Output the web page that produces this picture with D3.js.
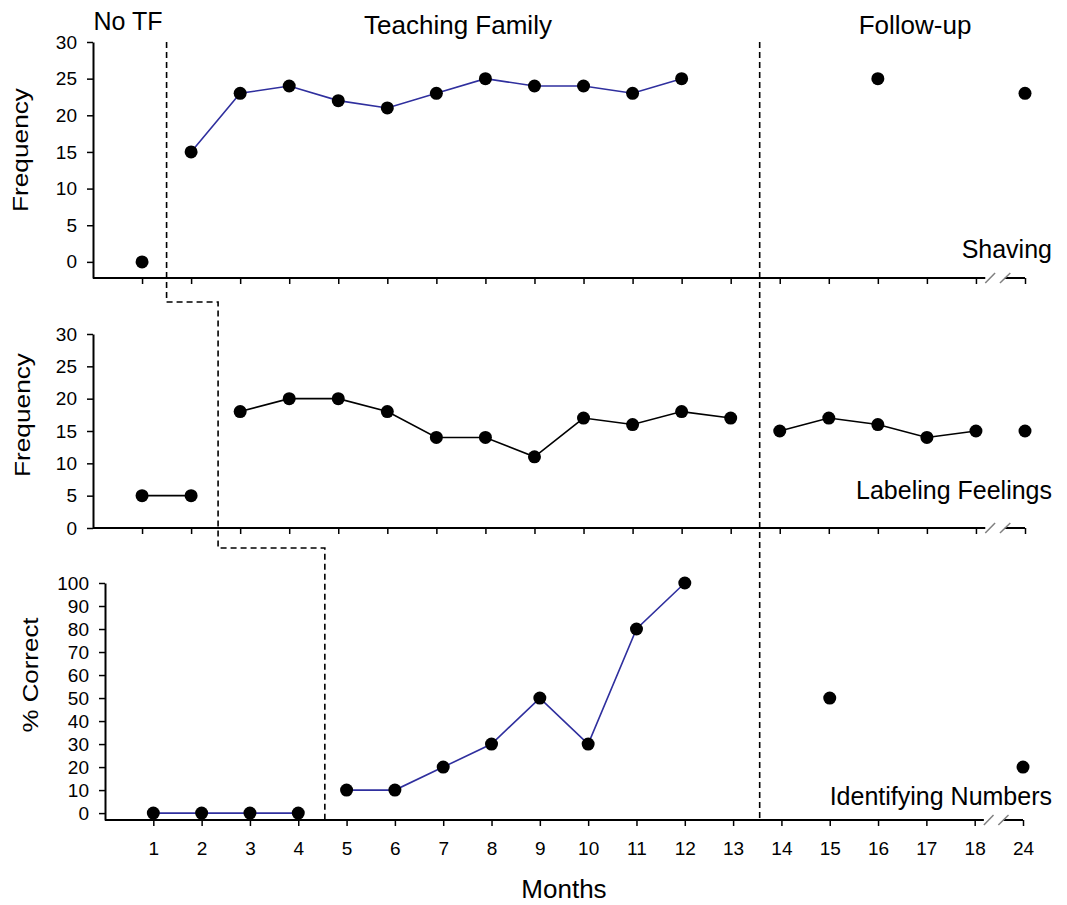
<!DOCTYPE html>
<html>
<head>
<meta charset="utf-8">
<script src="https://cdn.jsdelivr.net/npm/d3@7"></script>
<style>
  body { margin: 0; background: #fff; }
  svg { display: block; font-family: "Liberation Sans", Arial, sans-serif; }
</style>
</head>
<body>
<script>

// Month tick labels (month 24 sits one slot after 18, past the axis break).
var monthLabels = ['1', '2', '3', '4', '5', '6', '7', '8', '9', '10',
                   '11', '12', '13', '14', '15', '16', '17', '18', '24'];

// Y tick values.
var freqTicks = [0, 5, 10, 15, 20, 25, 30];
var pctTicks = [0, 10, 20, 30, 40, 50, 60, 70, 80, 90, 100];

// Shaving: [month, frequency].
var shavingNoTF = [[1, 0]];
var shavingTF = [[2, 15], [3, 23], [4, 24], [5, 22], [6, 21], [7, 23],
                 [8, 25], [9, 24], [10, 24], [11, 23], [12, 25]];
var shavingFollowUp = [[16, 25], [24, 23]];

// Labeling Feelings: [month, frequency].
var feelingsNoTF = [[1, 5], [2, 5]];
var feelingsTF = [[3, 18], [4, 20], [5, 20], [6, 18], [7, 14], [8, 14],
                  [9, 11], [10, 17], [11, 16], [12, 18], [13, 17]];
var feelingsFollowUp = [[14, 15], [15, 17], [16, 16], [17, 14], [18, 15]];
var feelingsLast = [[24, 15]];

// Identifying Numbers: [month, % correct].
var numbersNoTF = [[1, 0], [2, 0], [3, 0], [4, 0]];
var numbersTF = [[5, 10], [6, 10], [7, 20], [8, 30], [9, 50], [10, 30],
                 [11, 80], [12, 100]];
var numbersFollowUp = [[15, 50], [24, 20]];

var BLUE = '#2f2f9e';
var FONT = '"Liberation Sans", Arial, sans-serif';

// Month -> axis slot.
function slot(m) { return m <= 18 ? m : 19; }

var svg = d3.select('body').append('svg')
  .attr('width', 1067)
  .attr('height', 905);

var panels = [
  {
    label: 'Shaving', labelY: 258,
    title: 'Frequency', titleX: 28, titleY: 150, titleLen: 124,
    ticks: freqTicks, domain: [-2.2, 30],
    left: 93, right: 1025, top: 42, axisY: 278,
    color: BLUE, showMonths: false,
    series: [
      { data: shavingNoTF, joined: true },
      { data: shavingTF, joined: true },
      { data: shavingFollowUp, joined: false }
    ]
  },
  {
    label: 'Labeling Feelings', labelY: 499,
    title: 'Frequency', titleX: 30, titleY: 415, titleLen: 124,
    ticks: freqTicks, domain: [0, 30],
    left: 93, right: 1025, top: 334, axisY: 528,
    color: '#000', showMonths: false,
    series: [
      { data: feelingsNoTF, joined: true },
      { data: feelingsTF, joined: true },
      { data: feelingsFollowUp, joined: true },
      { data: feelingsLast, joined: false }
    ]
  },
  {
    label: 'Identifying Numbers', labelY: 805,
    title: '% Correct', titleX: 38, titleY: 675, titleLen: 115,
    ticks: pctTicks, domain: [-3, 100],
    left: 105, right: 1023, top: 583, axisY: 820,
    color: BLUE, showMonths: true,
    series: [
      { data: numbersNoTF, joined: true },
      { data: numbersTF, joined: true },
      { data: numbersFollowUp, joined: false }
    ]
  }
];

// Render each panel.
panels.forEach(function(p) {

  var x = d3.scaleLinear().domain([0, 19]).range([p.left, p.right]);
  var y = d3.scaleLinear().domain(p.domain).range([p.axisY, p.top]);
  p.x = x;
  p.y = y;

  var g = svg.append('g');

  // Y axis.
  var ya = g.append('g')
    .attr('transform', 'translate(' + p.left + ',0)')
    .call(d3.axisLeft(y).tickValues(p.ticks).tickSize(6)
      .tickSizeOuter(0).tickPadding(10));
  ya.attr('font-size', null).attr('font-family', null);
  ya.select('.domain').attr('stroke', '#000').attr('stroke-width', 2);
  ya.selectAll('.tick line').attr('stroke', '#000').attr('stroke-width', 1.5);
  ya.selectAll('text').style('font-size', '19px').attr('fill', '#000')
    .style('font-family', FONT);

  // X axis ticks.
  var xa = g.append('g')
    .attr('transform', 'translate(0,' + p.axisY + ')')
    .call(d3.axisBottom(x).tickValues(d3.range(1, 20)).tickSize(6)
      .tickSizeOuter(0).tickPadding(16)
      .tickFormat(function(d, i) { return p.showMonths ? monthLabels[i] : ''; }));
  xa.attr('font-size', null).attr('font-family', null);
  xa.select('.domain').remove();
  xa.selectAll('.tick line').attr('stroke', '#000').attr('stroke-width', 1.5);
  xa.selectAll('text').style('font-size', '19px').attr('fill', '#000')
    .style('font-family', FONT);

  // X axis line with break.
  g.append('path')
    .attr('d', 'M' + p.left + ',' + p.axisY + 'H' + x(18.19) +
               'M' + x(18.59) + ',' + p.axisY + 'H' + x(19))
    .attr('stroke', '#000').attr('stroke-width', 2).attr('fill', 'none');
  [[18.19, 18.39], [18.49, 18.7]].forEach(function(s) {
    g.append('line')
      .attr('x1', x(s[0])).attr('y1', p.axisY + 5)
      .attr('x2', x(s[1])).attr('y2', p.axisY - 5)
      .attr('stroke', '#808080').attr('stroke-width', 1.5);
  });

  // Data lines.
  var line = d3.line()
    .x(function(d) { return x(slot(d[0])); })
    .y(function(d) { return y(d[1]); });
  p.series.filter(function(s) { return s.joined && s.data.length > 1; })
    .forEach(function(s) {
      g.append('path')
        .attr('d', line(s.data))
        .attr('fill', 'none')
        .attr('stroke', p.color)
        .attr('stroke-width', 1.6);
    });

  // Markers.
  p.series.forEach(function(s) {
    g.selectAll(null).data(s.data).enter().append('circle')
      .attr('cx', function(d) { return x(slot(d[0])); })
      .attr('cy', function(d) { return y(d[1]); })
      .attr('r', 6.5)
      .attr('fill', '#000');
  });

  // Behaviour label.
  g.append('text')
    .attr('x', 1052).attr('y', p.labelY)
    .attr('text-anchor', 'end')
    .attr('font-size', 25)
    .text(p.label);

  // Y title.
  g.append('text')
    .attr('transform', 'translate(' + p.titleX + ',' + p.titleY + ') rotate(-90)')
    .attr('text-anchor', 'middle')
    .attr('font-size', 22)
    .attr('textLength', p.titleLen)
    .attr('lengthAdjust', 'spacingAndGlyphs')
    .text(p.title);

});

// Phase change lines.
var pTop = panels[0], pMid = panels[1], pBot = panels[2];
var step1 = pTop.axisY + 24, step2 = pMid.axisY + 20;
var phase = d3.path();
phase.moveTo(pTop.x(1.5), pTop.top);
phase.lineTo(pTop.x(1.5), step1);
phase.lineTo(pMid.x(2.55), step1);
phase.lineTo(pMid.x(2.55), step2);
phase.lineTo(pBot.x(4.55), step2);
phase.lineTo(pBot.x(4.55), pBot.axisY);
phase.moveTo(pBot.x(13.55), pTop.top);
phase.lineTo(pBot.x(13.55), pBot.axisY);
svg.append('path')
  .attr('d', phase.toString())
  .attr('fill', 'none')
  .attr('stroke', '#000')
  .attr('stroke-width', 1.6)
  .attr('stroke-dasharray', '6,4');

// Phase titles.
[['No TF', 128, 30, 25], ['Teaching Family', 458, 34, 26], ['Follow-up', 915, 34, 26]]
  .forEach(function(t) {
    svg.append('text')
      .attr('x', t[1]).attr('y', t[2])
      .attr('text-anchor', 'middle')
      .attr('font-size', t[3])
      .text(t[0]);
  });

// X title.
svg.append('text')
  .attr('x', 564).attr('y', 898)
  .attr('text-anchor', 'middle')
  .attr('font-size', 26)
  .text('Months');

</script>
</body>
</html>
